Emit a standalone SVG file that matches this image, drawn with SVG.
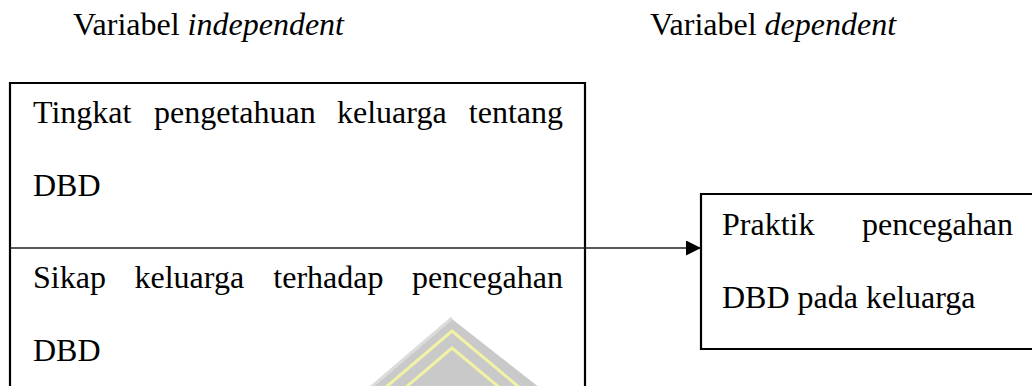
<svg xmlns="http://www.w3.org/2000/svg" width="1032" height="386" viewBox="0 0 1032 386">
<style>
text{font-family:'Liberation Serif','Times New Roman','DejaVu Serif',serif;font-size:32px;fill:#000}
.i{font-style:italic}
.box{fill:none;stroke:#000;stroke-width:2.2}
.ln{stroke:#222;stroke-width:1.5;fill:none}
</style>
<defs>
<marker id="ah" markerUnits="userSpaceOnUse" markerWidth="16" markerHeight="16" refX="15" refY="7.5" orient="auto">
<path d="M0,0 L15,7.5 L0,15 Z" fill="#000"/>
</marker>
</defs>
<rect width="1032" height="386" fill="#fff"/>
<g id="watermark">
<polygon points="452,319 372,388 540,388" fill="#c9c9c9"/>
<polyline points="370,388 452,318" fill="none" stroke="#dcdcdc" stroke-width="3"/>
<polyline points="385,388 452,331 520,388" fill="none" stroke="#f2f2a6" stroke-width="3"/>
<polyline points="405,388 452,348 500,388" fill="none" stroke="#f2f2a6" stroke-width="3"/>
</g>
<g id="headers" font-family="Liberation Serif, serif">
<text x="73" y="35">Variabel <tspan class="i">independent</tspan></text>
<text x="650" y="35">Variabel <tspan class="i">dependent</tspan></text>
</g>
<g id="node-independent" font-family="Liberation Serif, serif">
<polyline class="box" points="10,390 10,83 585,83 585,390"/>
<line class="ln" x1="10" y1="248" x2="585" y2="248"/>
<text x="33" y="123">Tingkat</text>
<text x="154" y="123">pengetahuan</text>
<text x="337" y="123">keluarga</text>
<text x="563" y="123" text-anchor="end">tentang</text>
<text x="33" y="196">DBD</text>
<text x="33" y="288">Sikap</text>
<text x="134.5" y="288">keluarga</text>
<text x="273.3" y="288">terhadap</text>
<text x="563" y="288" text-anchor="end">pencegahan</text>
<text x="33" y="361">DBD</text>
</g>
<g id="node-dependent" font-family="Liberation Serif, serif">
<polyline class="box" points="1040,194 701,194 701,349 1040,349"/>
<text x="722" y="235">Praktik</text>
<text x="1013" y="235" text-anchor="end">pencegahan</text>
<text x="722" y="308">DBD pada keluarga</text>
</g>
<g id="connectors">
<line class="ln" x1="585" y1="248" x2="701" y2="248" marker-end="url(#ah)"/>
</g>
</svg>
